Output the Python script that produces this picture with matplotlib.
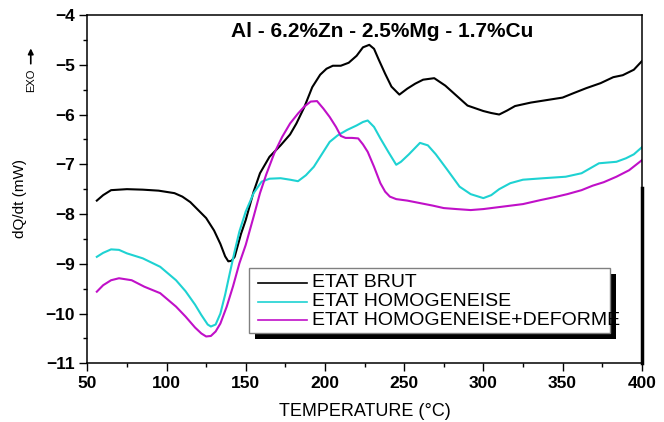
import matplotlib
matplotlib.use('Agg')
import matplotlib.pyplot as plt
from matplotlib.patches import Rectangle
from matplotlib.ticker import MultipleLocator

# DSC curves, dQ/dt (mW) vs temperature (°C)
brut_T = [56, 60, 65, 75, 85, 95, 105, 110, 115, 120, 125, 130, 134, 137, 139, 141, 143, 147,
          150, 155, 159, 165, 172, 178, 182, 187, 192, 197, 201, 205, 210, 215, 220, 224, 228,
          231, 234, 238, 242, 247, 252, 257, 262, 269, 276, 283, 290, 300, 305, 310, 315, 320,
          330, 340, 350, 357, 365, 374, 382, 388, 395, 400]
brut_v = [-7.73, -7.62, -7.52, -7.50, -7.51, -7.53, -7.58, -7.65, -7.76, -7.92, -8.08, -8.33,
          -8.60, -8.85, -8.95, -8.94, -8.86, -8.40, -8.12, -7.55, -7.18, -6.85, -6.62, -6.40,
          -6.18, -5.85, -5.45, -5.20, -5.08, -5.02, -5.02, -4.96, -4.82, -4.65, -4.60, -4.68,
          -4.90, -5.18, -5.44, -5.60, -5.48, -5.38, -5.30, -5.27, -5.42, -5.62, -5.82, -5.93,
          -5.97, -6.00, -5.92, -5.83, -5.76, -5.71, -5.66, -5.57, -5.47, -5.37, -5.25, -5.21,
          -5.10, -4.93]

homo_T = [56, 60, 65, 70, 75, 85, 96, 106, 112, 118, 122, 126, 128, 131, 134, 137, 140, 143,
          146, 150, 155, 160, 165, 172, 178, 183, 188, 193, 198, 203, 208, 214, 220, 224, 227,
          231, 235, 240, 245, 248, 253, 260, 265, 270, 277, 285, 292, 300, 305, 310, 317, 325,
          338, 352, 362, 373, 384, 390, 395, 400]
homo_v = [-8.86, -8.78, -8.71, -8.72, -8.79, -8.89, -9.06, -9.33, -9.55, -9.82, -10.03, -10.22,
          -10.26, -10.22, -10.00, -9.62, -9.18, -8.75, -8.35, -7.95, -7.58, -7.35, -7.29, -7.28,
          -7.31, -7.34, -7.22, -7.05, -6.80, -6.55, -6.42, -6.31, -6.22, -6.15, -6.12, -6.25,
          -6.48, -6.75, -7.01, -6.95, -6.80, -6.57, -6.62, -6.80, -7.10, -7.45, -7.60, -7.68,
          -7.62, -7.50, -7.38, -7.31, -7.28, -7.25, -7.18, -6.98, -6.95, -6.88, -6.80, -6.66]

def_T = [56, 60, 65, 70, 78, 86, 96, 106, 112, 118, 122, 125, 128, 131, 134, 138, 142, 146,
         150, 155, 159, 163, 168, 173, 178, 183, 187, 191, 195, 199, 203, 207, 210, 213, 217,
         221, 224, 227, 231, 235, 238, 241, 245, 252, 260, 268, 275, 283, 292, 300, 315, 325,
         336, 345, 353, 362, 369, 376, 384, 392, 400]
def_v = [-9.56, -9.43, -9.33, -9.29, -9.33, -9.46, -9.59, -9.86, -10.06, -10.28, -10.40, -10.46,
         -10.45, -10.36, -10.20, -9.86, -9.45, -8.99, -8.62, -8.05, -7.58, -7.20, -6.78, -6.45,
         -6.18, -5.98, -5.84, -5.74, -5.73, -5.88, -6.05, -6.25, -6.43, -6.47, -6.47, -6.48,
         -6.60, -6.75, -7.05, -7.38, -7.55, -7.65, -7.70, -7.73, -7.78, -7.83, -7.88, -7.90,
         -7.92, -7.90, -7.84, -7.80, -7.72, -7.66, -7.60, -7.52, -7.43, -7.36, -7.25, -7.12,
         -6.92]

labels = ['ETAT BRUT', 'ETAT HOMOGENEISE', 'ETAT HOMOGENEISE+DEFORME']
COLORS = ['#000000', '#1ED2D2', '#C010C8']

plt.rcParams['font.family'] = ['Liberation Sans', 'DejaVu Sans']

fig = plt.figure(figsize=(6.64, 4.22), dpi=100, facecolor='white')
ax = fig.add_axes([0.1315, 0.139, 0.835, 0.8255])

series = [(brut_T, brut_v), (homo_T, homo_v), (def_T, def_v)]
for (t, v), c in zip(series, COLORS):
    ax.plot(t, v, color=c, lw=1.5)

ax.set_xlim(50, 400)
ax.set_ylim(-11, -4)
ax.set_xticks(range(50, 401, 50))
ax.set_yticks(range(-11, -3))
ax.xaxis.set_minor_locator(MultipleLocator(25))
ax.yaxis.set_minor_locator(MultipleLocator(0.5))
ax.tick_params(which='major', direction='out', length=6, width=1, pad=3)
ax.tick_params(which='minor', direction='out', length=3, width=1)
for lab in ax.get_xticklabels() + ax.get_yticklabels():
    lab.set_fontweight('bold')
    lab.set_fontsize(12.5)
for s in ax.spines.values():
    s.set_linewidth(1.1)
# thicker lower part of right frame, as in the original
ax.plot([1, 1], [0, 0.503], transform=ax.transAxes, color='k', lw=2.5, clip_on=False)

ax.set_xlabel('TEMPERATURE (°C)', fontsize=13, labelpad=9)
ax.set_ylabel('dQ/dt (mW)', fontsize=11)
ax.yaxis.set_label_coords(-0.109, 0.4746)

# EXO marker with upward arrow
ax.text(-0.102, 0.812, 'EXO', rotation=90, fontsize=8, ha='center', va='center',
        transform=ax.transAxes)
ax.annotate('', xy=(-0.102, 0.912), xytext=(-0.102, 0.852), xycoords='axes fraction',
            arrowprops=dict(arrowstyle='-|>', color='k', lw=1.2, mutation_scale=8))

ax.text(0.531, 0.954, 'Al - 6.2%Zn - 2.5%Mg - 1.7%Cu', fontsize=15, fontweight='bold',
        ha='center', va='center', transform=ax.transAxes)

# legend box with black drop shadow
x0, x1, yb, yt = 0.2922, 0.9428, 0.0861, 0.2745
ax.add_patch(Rectangle((x0 + 0.0108, yb - 0.0172), x1 - x0, yt - yb, transform=ax.transAxes,
                       facecolor='black', edgecolor='none', zorder=5))
ax.add_patch(Rectangle((x0, yb), x1 - x0, yt - yb, transform=ax.transAxes,
                       facecolor='white', edgecolor='#808080', lw=1, zorder=6))
rows = [0.2314, 0.1769, 0.1243]
for lab, c, y in zip(labels, COLORS, rows):
    ax.plot([0.3084, 0.3957], [y, y], color=c, lw=1.2, transform=ax.transAxes, zorder=7)
    ax.text(0.4048, y, lab, fontsize=14, va='center', ha='left',
            transform=ax.transAxes, zorder=8)

fig.savefig('out.png', dpi=100, facecolor='white')
